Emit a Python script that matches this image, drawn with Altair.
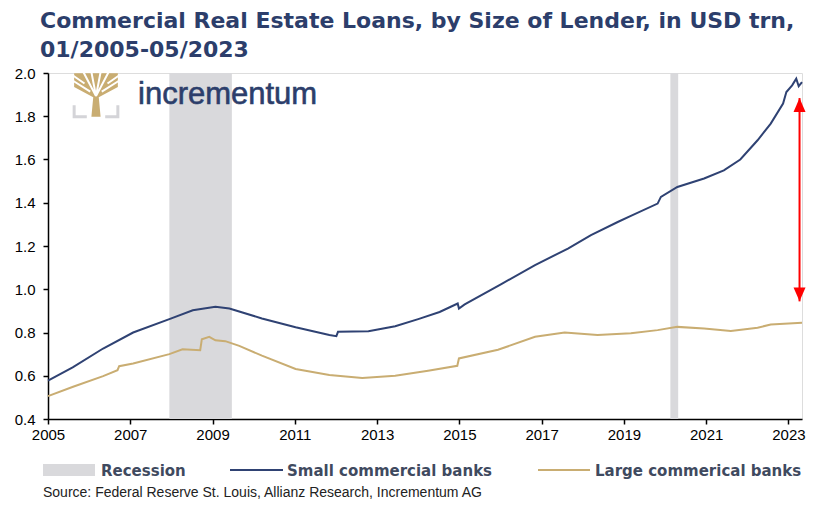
import altair as alt
import pandas as pd

# ---------------- data ----------------
title_lines = ["Commercial Real Estate Loans, by Size of Lender, in USD trn,", "01/2005-05/2023"]

small_years = [2005.0, 2005.6, 2006.34, 2007.07, 2007.95, 2008.52, 2009.07, 2009.41, 2010.2, 2011.02,
               2011.84, 2012.01, 2012.05, 2012.79, 2013.44, 2014.0, 2014.52, 2014.96, 2014.99, 2015.13,
               2016.02, 2016.84, 2017.64, 2018.2, 2018.85, 2019.17, 2019.82, 2019.9, 2020.3, 2020.95,
               2021.43, 2021.83, 2022.25, 2022.57, 2022.87, 2022.95, 2023.09, 2023.19, 2023.25, 2023.33]
small_vals = [0.577, 0.639, 0.726, 0.800, 0.862, 0.903, 0.919, 0.911, 0.865, 0.824,
              0.788, 0.783, 0.803, 0.806, 0.829, 0.862, 0.895, 0.934, 0.911, 0.930,
              1.024, 1.112, 1.188, 1.250, 1.311, 1.339, 1.396, 1.427, 1.473, 1.512,
              1.550, 1.600, 1.689, 1.766, 1.859, 1.912, 1.943, 1.974, 1.939, 1.958]

large_years = [2005.0, 2005.61, 2006.34, 2006.69, 2006.73, 2007.07, 2007.95, 2008.27, 2008.7, 2008.74,
               2008.92, 2009.07, 2009.31, 2009.65, 2010.2, 2011.02, 2011.84, 2012.64, 2013.44, 2014.24,
               2014.95, 2014.99, 2015.94, 2016.84, 2017.56, 2018.36, 2019.17, 2019.82, 2020.3, 2020.95,
               2021.6, 2022.25, 2022.57, 2023.33]
large_vals = [0.506, 0.549, 0.598, 0.626, 0.644, 0.657, 0.700, 0.722, 0.718, 0.769,
              0.780, 0.764, 0.760, 0.738, 0.693, 0.631, 0.603, 0.590, 0.600, 0.623,
              0.646, 0.680, 0.720, 0.780, 0.800, 0.788, 0.796, 0.811, 0.826, 0.818,
              0.807, 0.822, 0.837, 0.845]

recession_start = [2007.95, 2020.13]
recession_end = [2009.47, 2020.32]

series_names = ["Small commercial banks", "Large commerical banks"]
legend_labels = ["Recession", "Small commercial banks", "Large commerical banks"]
source_text = "Source: Federal Reserve St. Louis, Allianz Research, Incrementum AG"
logo_text = "incrementum"

arrow_x = [2023.27]
arrow_bottom = [0.944]
arrow_top = [1.884]

x_ticks = [2005, 2007, 2009, 2011, 2013, 2015, 2017, 2019, 2021, 2023]
y_ticks = [0.4, 0.6, 0.8, 1.0, 1.2, 1.4, 1.6, 1.8, 2.0]

# ---------------- styles ----------------
NAVY = "#2f4273"
GOLD = "#c9ad72"
REC = "#d9d9dc"
TITLE_C = "#2c3e6b"
LEG_C = "#3f4a5f"
FONT = "Liberation Sans"
WIDE = "DejaVu Sans"
W, H = 754, 346

lines_df = pd.DataFrame({
    "year": small_years + large_years,
    "value": small_vals + large_vals,
    "series": [series_names[0]] * len(small_years) + [series_names[1]] * len(large_years),
})
rec_df = pd.DataFrame({"start": recession_start, "end": recession_end})
arrow_df = pd.DataFrame({"x": arrow_x, "y1": arrow_bottom, "y2": arrow_top})
one = pd.DataFrame({"a": [0]})

xscale = alt.Scale(domain=[2005, 2023.33], nice=False, zero=False)
yscale = alt.Scale(domain=[0.4, 2.0], nice=False, zero=False)

xaxis = alt.Axis(values=x_ticks, format="d", title=None, grid=False, domainColor="black",
                 tickColor="black", labelColor="black", labelFontSize=15, tickSize=5,
                 labelPadding=3, labelFont=FONT, labelFlush=False, domainWidth=1.5, tickWidth=1.5)
yaxis = alt.Axis(values=y_ticks, format=".1f", title=None, grid=False, domainColor="black",
                 tickColor="black", labelColor="black", labelFontSize=15, tickSize=5,
                 labelPadding=8, labelFont=FONT, domainWidth=1.5, tickWidth=1.5)

rects = alt.Chart(rec_df).mark_rect(color=REC).encode(
    x=alt.X("start:Q", scale=xscale, axis=xaxis),
    x2="end:Q",
    y=alt.value(0), y2=alt.value(H),
)

lines = alt.Chart(lines_df).mark_line(strokeWidth=2).encode(
    x=alt.X("year:Q", scale=xscale, axis=xaxis),
    y=alt.Y("value:Q", scale=yscale, axis=yaxis),
    color=alt.Color("series:N", scale=alt.Scale(domain=series_names, range=[NAVY, GOLD]), legend=None),
)

arrow_rule = alt.Chart(arrow_df).mark_rule(color="#ff0000", strokeWidth=2).encode(
    x=alt.X("x:Q", scale=xscale), y=alt.Y("y1:Q", scale=yscale), y2="y2:Q")
head_up = alt.Chart(arrow_df).mark_point(shape="M0,0L1,2.3L-1,2.3Z", filled=True, opacity=1,
                                         color="#ff0000", size=144).encode(
    x=alt.X("x:Q", scale=xscale), y=alt.Y("y2:Q", scale=yscale))
head_down = alt.Chart(arrow_df).mark_point(shape="M0,0L1,-2.3L-1,-2.3Z", filled=True, opacity=1,
                                           color="#ff0000", size=144).encode(
    x=alt.X("x:Q", scale=xscale), y=alt.Y("y1:Q", scale=yscale))

# logo
tree = alt.Chart(one).mark_point(
    shape="M-0.2,0.95L0.2,0.95L0.12,0.1L0.95,-0.35L0.95,-0.95L-0.95,-0.95L-0.95,-0.35L-0.12,0.1Z",
    filled=True, opacity=1, color=GOLD, size=2116).encode(x=alt.value(48), y=alt.value(22))
branches = alt.Chart(one).mark_point(
    shape="M0,0.05L-0.55,-1M0,0.05L-0.2,-1M0,0.05L0.2,-1M0,0.05L0.55,-1M-0.25,-0.15L-1,-0.62M0.25,-0.15L1,-0.62M-0.5,-0.5L-1,-0.85M0.5,-0.5L1,-0.85",
    filled=False, opacity=1, color="white", strokeWidth=2, size=2116).encode(x=alt.value(48), y=alt.value(22))
bracket = alt.Chart(one).mark_point(
    shape="M-0.95,0.45L-0.95,0.95L-0.4,0.95M0.4,0.95L0.95,0.95L0.95,0.45",
    filled=False, opacity=1, color="#d4d4d8", strokeWidth=3, size=2116).encode(x=alt.value(48), y=alt.value(22))
logo = alt.Chart(one).mark_text(text=logo_text, font=FONT, fontSize=31, color=TITLE_C, align="left",
                                baseline="alphabetic", stroke=TITLE_C, strokeWidth=0.6).encode(
    x=alt.value(90), y=alt.value(31))

# title
t1 = alt.Chart(one).mark_text(text=title_lines[0], font=WIDE, fontSize=22, fontWeight="bold", color=TITLE_C,
                              align="left", baseline="alphabetic").encode(x=alt.value(-8), y=alt.value(-45))
t2 = alt.Chart(one).mark_text(text=title_lines[1], font=WIDE, fontSize=22, fontWeight="bold", color=TITLE_C,
                              align="left", baseline="alphabetic").encode(x=alt.value(-8), y=alt.value(-16))

# legend
leg_rect = alt.Chart(one).mark_rect(color=REC).encode(x=alt.value(-5), x2=alt.value(47), y=alt.value(391), y2=alt.value(403))
leg_l1 = alt.Chart(one).mark_rule(color=NAVY, strokeWidth=2).encode(x=alt.value(182), x2=alt.value(235), y=alt.value(397))
leg_l2 = alt.Chart(one).mark_rule(color=GOLD, strokeWidth=2).encode(x=alt.value(490), x2=alt.value(542), y=alt.value(397))
leg_texts = []
for lab, xp in zip(legend_labels, [53, 239, 547]):
    leg_texts.append(alt.Chart(one).mark_text(text=lab, font=WIDE, fontSize=15, fontWeight="bold", color=LEG_C,
                                              align="left", baseline="alphabetic").encode(x=alt.value(xp), y=alt.value(403)))

src = alt.Chart(one).mark_text(text=source_text, font=FONT, fontSize=14, color="#222222", align="left",
                               baseline="alphabetic").encode(x=alt.value(-5), y=alt.value(424))

chart = alt.layer(
    rects, lines, arrow_rule, head_up, head_down, tree, branches, bracket, logo,
    t1, t2, leg_rect, leg_l1, leg_l2, *leg_texts, src
).properties(
    width=W, height=H,
    autosize=alt.AutoSizeParams(type="none"),
    padding={"left": 40, "top": 65, "right": 4, "bottom": 82},
).configure_view(stroke=None).configure(font=FONT)

chart.save("out.html", embed_options={"renderer": "svg", "actions": False})
